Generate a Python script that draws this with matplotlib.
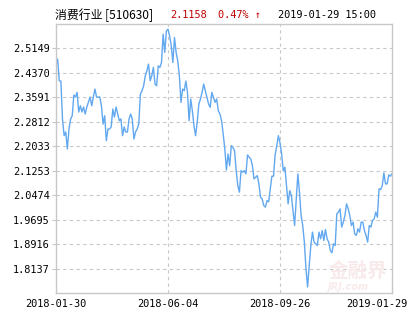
import matplotlib
matplotlib.use('Agg')
import matplotlib.pyplot as plt
import matplotlib.transforms as mtransforms

# daily close of the ETF
prices = [
    2.4596, 2.4809, 2.4119, 2.4109, 2.2901, 2.2370, 2.2488, 2.1947, 2.2583, 2.2901,
    2.3006, 2.3664, 2.3601, 2.3750, 2.3124, 2.3324, 2.3124, 2.3283, 2.3060, 2.3283,
    2.3442, 2.3601, 2.3324, 2.3601, 2.3855, 2.3601, 2.3601, 2.3601, 2.3324, 2.2742,
    2.3006, 2.2211, 2.2583, 2.2583, 2.2647, 2.3219, 2.2965, 2.3283, 2.3060, 2.2847,
    2.2901, 2.2370, 2.2647, 2.2488, 2.2488, 2.2901, 2.3060, 2.2901, 2.2265, 2.2488,
    2.2583, 2.2742, 2.3696, 2.3801, 2.3960, 2.4278, 2.4437, 2.4650, 2.4119, 2.4278,
    2.4545, 2.4014, 2.3960, 2.4596, 2.4545, 2.4704, 2.5604, 2.5022, 2.5709, 2.5763,
    2.5550, 2.5232, 2.4704, 2.5499, 2.5022, 2.4755, 2.4278, 2.3432, 2.3855, 2.3801,
    2.4109, 2.3750, 2.2847, 2.3537, 2.3165, 2.2688, 2.2370, 2.2796, 2.3378, 2.3537,
    2.3750, 2.4014, 2.3801, 2.3591, 2.3378, 2.3273, 2.3750, 2.3591, 2.3432, 2.3537,
    2.3165, 2.3060, 2.2847, 2.2424, 2.1947, 2.1279, 2.1788, 2.1416, 2.2052, 2.2001,
    2.1893, 2.1257, 2.0780, 2.0570, 2.1257, 2.1206, 2.1257, 2.1152, 2.1756, 2.1683,
    2.1629, 2.1416, 2.0993, 2.1047, 2.1098, 2.0834, 2.0411, 2.0357, 2.0144, 2.0093,
    2.0303, 2.0262, 2.0675, 2.1079, 2.1079, 2.1756, 2.2052, 2.2370, 2.2138, 2.1788,
    2.1257, 2.1365, 2.0780, 2.0198, 2.0621, 2.0462, 1.9985, 1.9508, 2.0357, 2.1152,
    2.0570, 1.9826, 1.9508, 1.8980, 1.8131, 1.7549, 1.8236, 1.8872, 1.9298, 1.8980,
    1.8926, 1.8872, 1.9298, 1.9085, 1.9349, 1.9031, 1.9381, 1.9085, 1.8980, 1.8713,
    1.8640, 1.8926, 1.8872, 1.9880, 1.9934, 2.0039, 1.9457, 1.9616, 1.9826, 2.0198,
    2.0039, 1.9826, 1.9508, 1.9616, 1.9244, 1.9190, 1.9403, 1.9298, 1.9616, 1.9616,
    1.9349, 1.9190, 1.8980, 1.9508, 1.9457, 1.9667, 1.9721, 1.9934, 1.9775, 2.0675,
    2.0653, 2.0780, 2.1184, 2.0834, 2.0834, 2.1120, 2.1079, 2.1158,
]
y_ticks = [1.8137, 1.8916, 1.9695, 2.0474, 2.1253, 2.2033, 2.2812, 2.3591, 2.4370, 2.5149]
y_range = [1.7358, 2.5928]
date_labels = ['2018-01-30', '2018-06-04', '2018-09-26', '2019-01-29']

fund_name = '消费行业 [510630]'
last_price = '2.1158'
change_pct = '0.47% ↑'
stamp = '2019-01-29 15:00'

W, H = 415, 330
fig = plt.figure(figsize=(W / 100, H / 100), dpi=100)
ax = fig.add_axes([56 / W, 1 - 293 / H, (392 - 56) / W, (293 - 24) / H])

n = len(prices)
ax.plot(range(n), prices, color='#62a8f0', lw=1.0)

ax.set_xlim(0, n - 1)
ax.set_ylim(*y_range)

ax.set_yticks(y_ticks)
ax.set_yticklabels(['%.4f' % v for v in y_ticks])
x_pos = [0, round((n - 1) / 3), round(2 * (n - 1) / 3), n - 1]
ax.set_xticks(x_pos)
ax.set_xticklabels(date_labels)

mono = ['DejaVu Sans Mono']
fs = 7.4
ax.tick_params(axis='y', length=3, width=0.8, color='#c8c8c8', pad=1.5,
               labelsize=fs, labelcolor='black')
ax.tick_params(axis='x', length=0, pad=4, labelsize=fs, labelcolor='black')
for lbl in ax.get_xticklabels() + ax.get_yticklabels():
    lbl.set_family(mono)

# keep the last date inside the picture
last = ax.get_xticklabels()[-1]
last.set_transform(last.get_transform() +
                   mtransforms.ScaledTranslation(-15 / 100, 0, fig.dpi_scale_trans))

for y in y_ticks:
    ax.axhline(y, color='#c8c8c8', lw=0.8, ls=(0, (3, 3)), zorder=0)
for x in x_pos[1:3]:
    ax.axvline(x, color='#c8c8c8', lw=0.8, ls=(0, (3, 3)), zorder=0)

for s in ax.spines.values():
    s.set_color('#c8c8c8')
    s.set_linewidth(1.0)

# faint watermark
ax.text(0.985, 0.045, '金融界', transform=ax.transAxes, ha='right', va='bottom',
        fontsize=14, color='#f8eaea', family=['Noto Sans CJK SC'], fontweight='bold', zorder=0)
ax.text(0.93, 0.005, 'JRJ.com', transform=ax.transAxes, ha='right', va='bottom',
        fontsize=7, color='#f8eaea', style='italic', fontweight='bold', zorder=0)

ty = 1 - 15 / H
fig.text(55 / W, ty, fund_name, ha='left', va='center', fontsize=8.6,
         family=['Noto Sans CJK SC', 'DejaVu Sans'], color='black')
fig.text(170 / W, ty, last_price, ha='left', va='center', fontsize=fs,
         family=mono, color='#c00000')
fig.text(218 / W, ty, change_pct, ha='left', va='center', fontsize=fs,
         family=mono, color='#c00000')
fig.text(278 / W, ty, stamp, ha='left', va='center', fontsize=fs,
         family=mono, color='black')

fig.savefig('out.png', dpi=100)
